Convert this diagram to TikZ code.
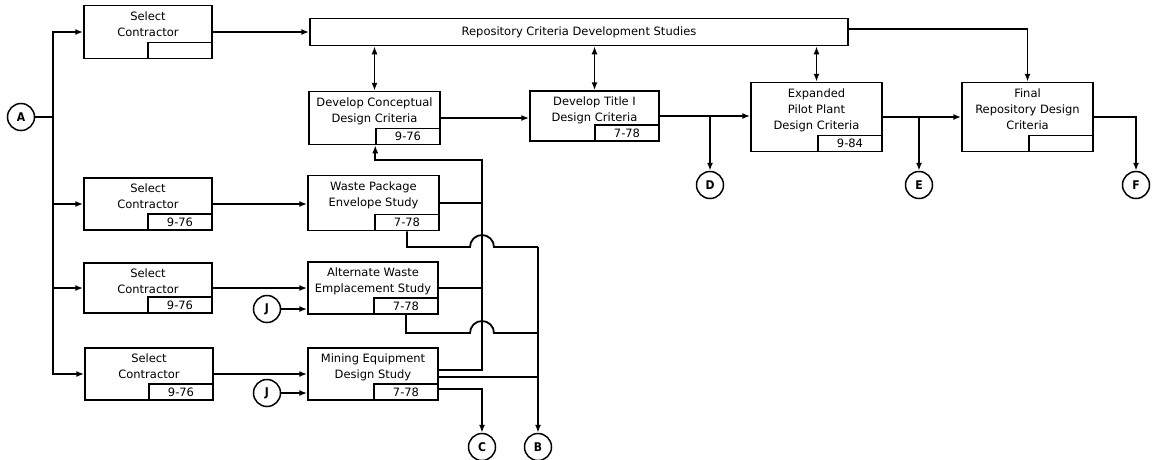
\documentclass[tikz,border=0pt]{standalone}
\usepackage{fontspec}
\usepackage{tikz}
\usetikzlibrary{arrows.meta,positioning,calc}
\newfontfamily\boxfont{DejaVu Sans}
\newfontfamily\tagfont{DejaVu Sans Condensed}

\begin{document}
\begin{tikzpicture}[x=1pt,y=-1pt,line width=1.8pt,
    blk/.style={draw,rectangle,inner sep=0pt,line width=1.5pt},
    datebox/.style={draw,rectangle,inner sep=0pt,line width=1.5pt,minimum width=64pt,minimum height=16pt,
        anchor=south east,font=\boxfont\fontsize{11.5}{13}\selectfont},
    txt/.style={align=center,inner sep=0pt,anchor=north,font=\boxfont\fontsize{11.5}{16}\selectfont},
    tag/.style={draw,circle,inner sep=0pt,line width=1.5pt,minimum size=27pt,font=\tagfont\bfseries\fontsize{12}{12}\selectfont},
    arr/.style={-{Latex[length=8pt,width=6pt]}},
    dbl/.style={{Latex[length=8pt,width=6pt]}-{Latex[length=8pt,width=6pt]}}]
    \useasboundingbox (0,0) rectangle (1160,459);

    % Contractor selection column
    \node[blk,minimum width=128pt,minimum height=53pt] (sc1) at (148,32) {};
    \node[txt] at ([yshift=-6pt]sc1.north) {Select\\Contractor};
    \node[datebox] (sc1d) at (sc1.south east) {};

    \node[blk,minimum width=128pt,minimum height=52pt] (sc2) at (148,204) {};
    \node[txt] at ([yshift=-6pt]sc2.north) {Select\\Contractor};
    \node[datebox] (sc2d) at (sc2.south east) {9-76};

    \node[blk,minimum width=128pt,minimum height=50pt] (sc3) at (148,288) {};
    \node[txt] at ([yshift=-6pt]sc3.north) {Select\\Contractor};
    \node[datebox] (sc3d) at (sc3.south east) {9-76};

    \node[blk,minimum width=128pt,minimum height=52pt] (sc4) at (149,374) {};
    \node[txt] at ([yshift=-6pt]sc4.north) {Select\\Contractor};
    \node[datebox] (sc4d) at (sc4.south east) {9-76};

    % Criteria chain
    \node[blk,minimum width=538pt,minimum height=27pt] (rep) at (579,32) {};
    \node[txt,anchor=center] at (rep.center) {Repository Criteria Development Studies};

    \node[blk,minimum width=131pt,minimum height=53pt] (dcdc) at (374.5,118) {};
    \node[txt] at ([yshift=-6pt]dcdc.north) {Develop Conceptual\\Design Criteria};
    \node[datebox] (dcdcd) at (dcdc.south east) {9-76};

    \node[blk,minimum width=129pt,minimum height=50pt] (dti) at (594.5,116) {};
    \node[txt] at ([yshift=-6pt]dti.north) {Develop Title I\\Design Criteria};
    \node[datebox] (dtid) at (dti.south east) {7-78};

    \node[blk,minimum width=131pt,minimum height=69pt] (epp) at (816.5,117) {};
    \node[txt] at ([yshift=-6pt]epp.north) {Expanded\\Pilot Plant\\Design Criteria};
    \node[datebox] (eppd) at (epp.south east) {9-84};

    \node[blk,minimum width=131pt,minimum height=69pt] (final) at (1027.5,117) {};
    \node[txt] at ([yshift=-6pt]final.north) {Final\\Repository Design\\Criteria};
    \node[datebox] (finald) at (final.south east) {};

    % Studies
    \node[blk,minimum width=131pt,minimum height=55pt] (wpe) at (373.5,203) {};
    \node[txt] at ([yshift=-6pt]wpe.north) {Waste Package\\Envelope Study};
    \node[datebox] (wped) at (wpe.south east) {7-78};

    \node[blk,minimum width=130pt,minimum height=52pt] (awe) at (373,288) {};
    \node[txt] at ([yshift=-6pt]awe.north) {Alternate Waste\\Emplacement Study};
    \node[datebox] (awed) at (awe.south east) {7-78};

    \node[blk,minimum width=130pt,minimum height=52pt] (med) at (373,374) {};
    \node[txt] at ([yshift=-6pt]med.north) {Mining Equipment\\Design Study};
    \node[datebox] (medd) at (med.south east) {7-78};

    % Connectors
    \node[tag] (A) at (21,117) {A};
    \node[tag] (D) at (710,185) {D};
    \node[tag] (E) at (919,185) {E};
    \node[tag] (F) at (1136,185) {F};
    \node[tag] (J1) at (267,309) {J};
    \node[tag] (J2) at (267,393) {J};
    \node[tag] (C) at (482,447) {C};
    \node[tag] (B) at (538,447) {B};

    \coordinate (bus) at (53,117);
    \coordinate (fb) at (482,160);
    \coordinate (bbus) at (538,247);

    % A feeds the contractor selections
    \draw (A.east) -- (bus);
    \draw[arr] (bus) |- (sc1.west);
    \draw[arr] (bus) |- (sc2.west);
    \draw[arr] (bus) |- (sc3.west);
    \draw[arr] (bus) |- (sc4.west);

    \draw[arr] (sc1.east) -- (rep.west);
    \draw[arr] (sc2.east) -- (sc2.east -| wpe.west);
    \draw[arr] (sc3.east) -- (sc3.east -| awe.west);
    \draw[arr] (sc4.east) -- (sc4.east -| med.west);
    \draw[arr] (J1.east) -- (J1.east -| awe.west);
    \draw[arr] (J2.east) -- (J2.east -| med.west);

    % Criteria flow
    \draw[dbl] (dcdc.north |- rep.south) -- (dcdc.north);
    \draw[dbl] (dti.north |- rep.south) -- (dti.north);
    \draw[dbl] (epp.north |- rep.south) -- (epp.north);
    \draw[arr] ([yshift=3pt]rep.east) -| (final.north);
    \draw[arr] (dcdc.east) -- (dcdc.east -| dti.west);
    \draw[arr] (dti.east) -- (dti.east -| epp.west);
    \draw[arr] (D |- dti.east) -- (D.north);
    \draw[arr] (epp.east) -- (epp.east -| final.west);
    \draw[arr] (E |- epp.east) -- (E.north);
    \draw[arr] (final.east) -| (F.north);

    % Study feedback to conceptual criteria
    \draw[arr] (wpe.east) -| (fb) -| (dcdcd.south west);
    \draw (awe.east) -- (awe.east -| fb);
    \draw ([yshift=4pt]med.east) -| (fb);

    % Study outputs to B and C
    \draw (wped.south) |- (470,247) arc[start angle=180,end angle=0,radius=12pt] -- (bbus);
    \draw (awed.south) |- (470,333) arc[start angle=180,end angle=0,radius=12pt] -- (538,333);
    \draw ([yshift=-3pt]med.east) -- ([yshift=-3pt]med.east -| bbus);
    \draw[arr] (bbus) -- (B.north);
    \draw[arr] ([yshift=-15pt]med.east) -| (C.north);
\end{tikzpicture}
\end{document}
